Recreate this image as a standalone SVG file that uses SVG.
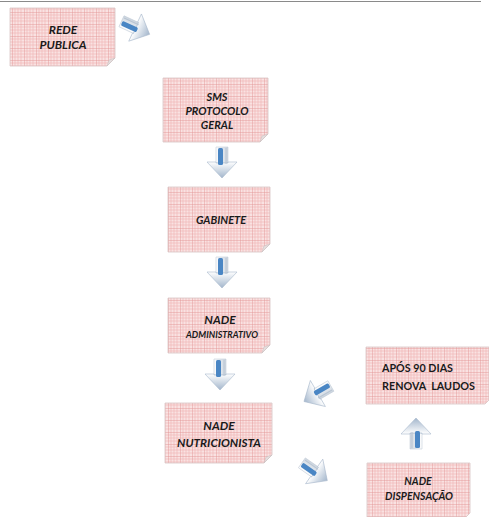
<svg xmlns="http://www.w3.org/2000/svg" width="489" height="517" viewBox="0 0 489 517">
<defs>
<pattern id="grid" width="12" height="12" patternUnits="userSpaceOnUse">
<rect width="12" height="12" fill="#f9e2e2"/>
<path d="M3 0V12M6 0V12M9 0V12M0 3H12M0 6H12M0 9H12" stroke="#f0b8b8" stroke-width="0.7"/>
<path d="M0 0V12M0 0H12" stroke="#e39494" stroke-width="0.9"/>
</pattern>
<linearGradient id="hg" x1="0" y1="0" x2="0" y2="1">
<stop offset="0" stop-color="#ffffff"/>
<stop offset="1" stop-color="#a3b6cc"/>
</linearGradient>
<linearGradient id="sg" x1="0" y1="0" x2="1" y2="0">
<stop offset="0" stop-color="#ffffff"/>
<stop offset="1" stop-color="#cbd4de"/>
</linearGradient>
<g id="arr">
<path d="M-6 -16H6V0H-6Z" fill="url(#sg)" stroke="#c2ccd8" stroke-width="0.6"/>
<path d="M-15 -1L-6 -1L-6 0L6 0L6 -1L15 -1L0 15Z" fill="url(#hg)" stroke="#a8b8cc" stroke-width="0.6"/>
<rect x="-4" y="-15" width="5" height="17" rx="1.5" fill="#4a86c4"/>
<path d="M4 -15V1" stroke="#b8c4d2" stroke-width="1"/>
</g>
<style>
.box{fill:url(#grid);stroke:#d8c4c4;stroke-width:0.8}
.fold{fill:#e4dede;stroke:#c8c0c0;stroke-width:0.5}
.t{font-family:Lato,"Open Sans",sans-serif;font-weight:bold;font-style:italic;fill:#1a1a1a;text-anchor:middle}
.n{font-family:Lato,"Open Sans",sans-serif;font-weight:bold;fill:#1a1a1a}
</style>
</defs>
<rect width="489" height="517" fill="#ffffff"/>
<line x1="0" y1="1.5" x2="481" y2="1.5" stroke="#8a8a8a" stroke-width="1.2"/>

<g id="rede">
<path class="box" d="M10 8H115V58L107 66H10Z"/>
<path class="fold" d="M115 58L107 66L109 60Z"/>
<text class="t" x="63" y="34" font-size="12">REDE</text>
<text class="t" x="63" y="49" font-size="12">PUBLICA</text>
</g>

<g id="sms">
<path class="box" d="M163 78H268V134L260 142H163Z"/>
<path class="fold" d="M268 134L260 142L262 136Z"/>
<text class="t" x="217" y="101" font-size="11">SMS</text>
<text class="t" x="217" y="115" font-size="11">PROTOCOLO</text>
<text class="t" x="217" y="129" font-size="11">GERAL</text>
</g>

<g id="gabinete">
<path class="box" d="M168 187H270V244L262 252H168Z"/>
<path class="fold" d="M270 244L262 252L264 246Z"/>
<text class="t" x="221" y="224" font-size="11">GABINETE</text>
</g>

<g id="nade-adm">
<path class="box" d="M168 298H270V345L262 353H168Z"/>
<path class="fold" d="M270 345L262 353L264 347Z"/>
<text class="t" x="220" y="324" font-size="12">NADE</text>
<text class="t" x="222" y="338" font-size="9">ADMINISTRATIVO</text>
</g>

<g id="nade-nut">
<path class="box" d="M165 403H272V455L264 463H165Z"/>
<path class="fold" d="M272 455L264 463L266 457Z"/>
<text class="t" x="219" y="430" font-size="12">NADE</text>
<text class="t" x="219" y="447" font-size="12" textLength="84" lengthAdjust="spacingAndGlyphs">NUTRICIONISTA</text>
</g>

<g id="apos">
<path class="box" d="M366 347H489V400L485 404H366Z"/>
<text class="n" x="382" y="372" font-size="12" textLength="71" lengthAdjust="spacingAndGlyphs">APÓS 90 DIAS</text>
<text class="n" x="382" y="390" font-size="12" textLength="93" lengthAdjust="spacingAndGlyphs" xml:space="preserve">RENOVA  LAUDOS</text>
</g>

<g id="nade-disp">
<path class="box" d="M367 463H470V513L466 517H367Z"/>
<text class="t" x="418" y="485" font-size="10.5">NADE</text>
<text class="t" x="419" y="500" font-size="10.5">DISPENSAÇÃO</text>
</g>

<g id="connectors">
<use href="#arr" transform="translate(136,28) rotate(-65)"/>
<use href="#arr" transform="translate(222,163)"/>
<use href="#arr" transform="translate(222,273)"/>
<use href="#arr" transform="translate(220,375)"/>
<use href="#arr" transform="translate(317,394) rotate(60)"/>
<use href="#arr" transform="translate(315,472) rotate(-55)"/>
<use href="#arr" transform="translate(416,433) rotate(180)"/>
</g>
</svg>
